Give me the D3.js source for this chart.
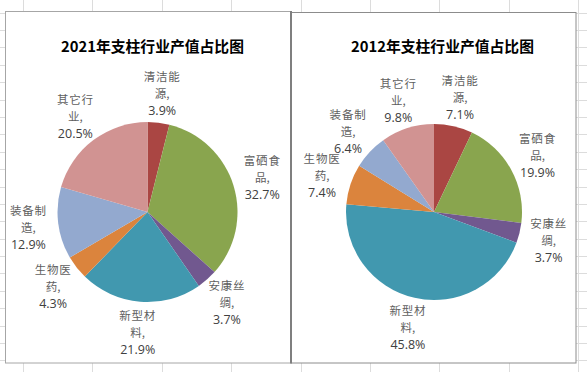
<!DOCTYPE html>
<html><head><meta charset="utf-8">
<script src="https://cdn.jsdelivr.net/npm/d3@7"></script>
<style>
html,body{margin:0;padding:0;background:#fff;}
svg{display:block;}
</style></head>
<body><svg id="c" width="587" height="372"></svg>
<script>
const categories = ["清洁能源","富硒食品","安康丝绸","新型材料","生物医药","装备制造","其它行业"];
const values2021 = [3.9, 32.7, 3.7, 21.9, 4.3, 12.9, 20.5];
const values2012 = [7.1, 19.9, 3.7, 45.8, 7.4, 6.4, 9.8];
const chartTitles = ["2021年支柱行业产值占比图", "2012年支柱行业产值占比图"];
const colors = ["#AA4643","#89A54E","#71588F","#4198AF","#DB843D","#93A9CF","#D19392"];

const svg = d3.select("#c");
const W = 587, H = 372;

// spreadsheet gridlines
const g0 = svg.append("g").attr("stroke","#dcdcdc").attr("stroke-width",1);
d3.range(0, 9).forEach(k => {
  const x = Math.round(23 + 69.4*k) + 0.5;
  g0.append("line").attr("x1",x).attr("x2",x).attr("y1",0).attr("y2",H);
});
d3.range(-1, 20).forEach(k => {
  const y = Math.round(30 + 17.39*k) + 0.5;
  g0.append("line").attr("x1",0).attr("x2",W).attr("y1",y).attr("y2",y);
});

const panels = [
  {x:5.5, y:11.5, w:285, h:351.5, stroke:"#a6a6a6", cx:147.5, cy:212, r:90, tx:152.5, values: values2021, title: chartTitles[0]},
  {x:291.5, y:12.5, w:284.5, h:350.5, stroke:"#8c8c8c", cx:434, cy:212, r:88, tx:442.5, values: values2012, title: chartTitles[1]}
];

panels.forEach(p => {
  svg.append("rect").attr("x",p.x).attr("y",p.y).attr("width",p.w).attr("height",p.h)
    .attr("fill","#fff").attr("stroke",p.stroke).attr("stroke-width",1);
});
svg.append("line").attr("x1",291).attr("x2",291).attr("y1",11).attr("y2",363.5)
  .attr("stroke","#7f7f7f").attr("stroke-width",2);

panels.forEach(p => {
  const g = svg.append("g").attr("transform",`translate(${p.cx},${p.cy})`);
  svg.append("text").attr("x",p.tx).attr("y",52).attr("text-anchor","middle")
    .attr("font-family","'Noto Sans CJK SC','Noto Sans',sans-serif").attr("font-weight","bold")
    .attr("font-size","14.8px").attr("fill","#000").text(p.title);

  const pie = d3.pie().sort(null).value(d => d);
  const arcs = pie(p.values);
  const arc = d3.arc().innerRadius(0).outerRadius(p.r);
  g.selectAll("path").data(arcs).enter().append("path")
    .attr("d", arc).attr("fill", (d,i) => colors[i]);

  const lr = p.r + 30;
  const labs = arcs.map((d,i) => ({i, a:(d.startAngle+d.endAngle)/2}));
  const pos = l => [Math.sin(l.a)*lr, -Math.cos(l.a)*lr];
  const BW = 43, BH = 42;
  for (let it = 0; it < 300; it++) {
    let moved = false;
    for (let m = 0; m < labs.length; m++) {
      const n = (m+1) % labs.length;
      const A = labs[m], B = labs[n];
      const pa = pos(A), pb = pos(B);
      if (Math.abs(pa[0]-pb[0]) < BW && Math.abs(pa[1]-pb[1]) < BH) {
        A.a -= 0.004; B.a += 0.004; moved = true;
      }
    }
    if (!moved) break;
  }
  const LS = 17;
  labs.forEach(l => {
    const [x,y] = pos(l);
    const name = categories[l.i];
    const t = g.append("text").attr("transform",`translate(${x},${y})`)
      .attr("text-anchor","middle").attr("dominant-baseline","central");
    t.append("tspan").attr("x",0).attr("y",-LS)
      .attr("font-family","'Noto Sans CJK SC',sans-serif").attr("font-size","11.5px").attr("letter-spacing","0.8px")
      .attr("fill","#5f5f5f").text(name.slice(0,3));
    t.append("tspan").attr("x",0).attr("y",0)
      .attr("font-family","'Noto Sans CJK SC',sans-serif").attr("font-size","11.5px")
      .attr("fill","#5f5f5f").text(name.slice(3) + ",");
    t.append("tspan").attr("x",0).attr("y",LS)
      .attr("font-family","'Open Sans','Noto Sans',sans-serif").attr("font-size","12.5px")
      .attr("fill","#404040").text(d3.format(".1f")(p.values[l.i]) + "%");
  });
});
</script>
</body></html>
